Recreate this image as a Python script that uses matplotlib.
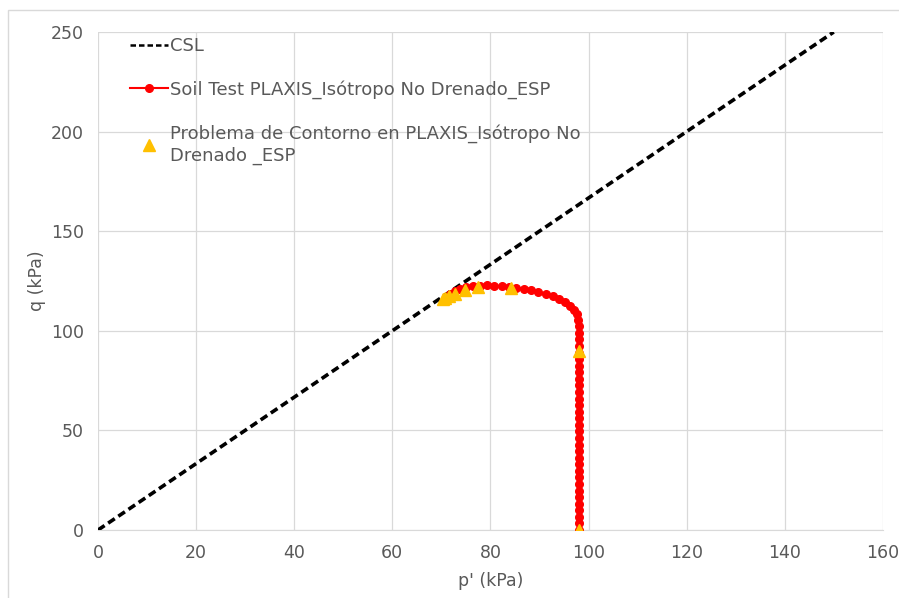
import matplotlib
matplotlib.use("Agg")
import matplotlib.pyplot as plt
from matplotlib.patches import Rectangle

# CSL
csl_p = [0, 150]
csl_q = [0, 250]

# Soil Test PLAXIS - vertical part then curve towards CSL
soil_p = [98.0] * 31 + [98.0, 97.9, 97.6, 97.0, 96.2, 95.2, 94.0, 92.7, 91.3, 89.8,
                        88.3, 86.8, 85.3, 83.8, 82.3, 80.8, 79.3, 77.8, 76.4, 75.1,
                        73.9, 72.8, 71.8, 71.0]
soil_q = [0, 3.3, 6.6, 9.9, 13.2, 16.5, 19.8, 23.1, 26.4, 29.7, 33.0, 36.3, 39.6, 42.9,
          46.2, 49.5, 52.8, 56.1, 59.4, 62.7, 66.0, 69.3, 72.6, 75.9, 79.2, 82.5, 85.8,
          89.1, 92.4, 95.7, 99.0,
          102.5, 105.5, 108.2, 110.6, 112.7, 114.5, 116.0, 117.3, 118.5, 119.5,
          120.4, 121.1, 121.7, 122.2, 122.5, 122.7, 122.8, 122.7, 122.4, 121.9,
          121.0, 119.9, 118.6, 117.2]

# Problema de Contorno en PLAXIS
bvp_p = [98.0, 98.0, 84.2, 77.5, 74.8, 72.8, 71.5, 70.8, 70.3]
bvp_q = [0, 90, 121.5, 122.0, 120.5, 118.5, 117.5, 116.5, 115.8]

txt = '#595959'
plt.rcParams['font.family'] = ['DejaVu Sans']

fig = plt.figure(figsize=(8.99, 5.98), dpi=100)
ax = fig.add_axes([0.109, 0.1137, 0.873, 0.8328])
fig.patches.append(Rectangle((0.009, -0.01), 1.0, 0.993, transform=fig.transFigure,
                             fill=False, edgecolor='#d9d9d9', lw=1))

ax.plot(csl_p, csl_q, color='black', ls=(0, (2.2, 1.2)), lw=2.6, label='CSL', zorder=3)
ax.plot(soil_p, soil_q, color='#ff0000', lw=1.5, marker='o', ms=5.5,
        label='Soil Test PLAXIS_Isótropo No Drenado_ESP', zorder=4)
ax.plot(bvp_p, bvp_q, ls='none', marker='^', color='#ffc000', ms=8,
        label='Problema de Contorno en PLAXIS_Isótropo No\nDrenado _ESP', zorder=5)

ax.set_xlim(0, 160)
ax.set_ylim(0, 250)
ax.set_xticks(range(0, 161, 20))
ax.set_yticks(range(0, 251, 50))
ax.grid(True, color='#d9d9d9', lw=0.9)
ax.set_axisbelow(True)
for s in ['top', 'right', 'left']:
    ax.spines[s].set_visible(False)
ax.spines['bottom'].set_color('#d9d9d9')
ax.tick_params(length=0, labelsize=12.5, colors=txt, pad=10)
ax.set_xlabel("p' (kPa)", fontsize=12.5, color=txt, labelpad=7)
ax.set_ylabel("q (kPa)", fontsize=12.5, color=txt, labelpad=4)

leg = ax.legend(loc='upper left', bbox_to_anchor=(0.027, 1.012), frameon=False, fontsize=13,
                labelspacing=1.4, handlelength=2.1, handletextpad=0.1, borderaxespad=0.2)
for t in leg.get_texts():
    t.set_color(txt)
    t.set_linespacing(1.3)
leg.get_lines()[0].set_linewidth(1.8)

fig.savefig('out.png', dpi=100)
